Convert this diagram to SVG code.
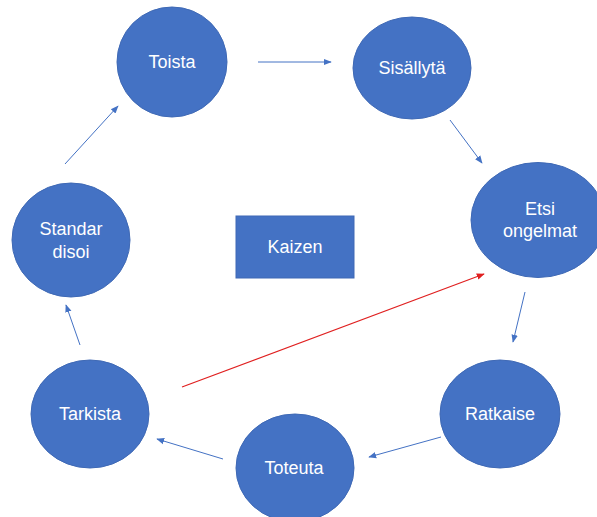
<svg xmlns="http://www.w3.org/2000/svg" width="597" height="517" viewBox="0 0 597 517">
<style>
.n{fill:#4472C4;stroke:#3F69B5;stroke-width:1}
.t{fill:#fff;font-family:"Liberation Sans",Arial,sans-serif;font-size:18px;text-anchor:middle}
.c{stroke:#4472C4;stroke-width:1;fill:none;marker-end:url(#ab)}
.r{stroke:#E02020;stroke-width:1.2;fill:none;marker-end:url(#ar)}
</style>
<defs>
<marker id="ab" viewBox="0 0 10 10" refX="9" refY="5" markerWidth="8" markerHeight="8" markerUnits="userSpaceOnUse" orient="auto"><path d="M0,1 L10,5 L0,9 z" fill="#4472C4"/></marker>
<marker id="ar" viewBox="0 0 10 10" refX="9" refY="5" markerWidth="8" markerHeight="8" markerUnits="userSpaceOnUse" orient="auto"><path d="M0,1 L10,5 L0,9 z" fill="#E02020"/></marker>
</defs>
<rect width="597" height="517" fill="#fff"/>
<g id="connectors">
<line class="c" x1="258" y1="62" x2="331" y2="62"/>
<line class="c" x1="450" y1="120" x2="482" y2="163"/>
<line class="c" x1="525" y1="292" x2="513" y2="342"/>
<line class="c" x1="441" y1="437" x2="369" y2="457"/>
<line class="c" x1="223" y1="459" x2="157" y2="439"/>
<line class="c" x1="80" y1="345" x2="66" y2="305"/>
<line class="c" x1="65" y1="164" x2="118" y2="106"/>
<line class="r" x1="182" y1="387" x2="484" y2="274"/>
</g>
<g id="toista"><ellipse class="n" cx="172" cy="62" rx="55" ry="55"/><text class="t" x="172" y="68">Toista</text></g>
<g id="sisallyta"><ellipse class="n" cx="412" cy="68" rx="59" ry="51"/><text class="t" x="412" y="74">Sisällytä</text></g>
<g id="etsi"><ellipse class="n" cx="538" cy="220" rx="67" ry="57.5"/><text class="t" x="540" y="215">Etsi</text><text class="t" x="540" y="237">ongelmat</text></g>
<g id="ratkaise"><ellipse class="n" cx="500" cy="414" rx="60" ry="54"/><text class="t" x="500" y="420">Ratkaise</text></g>
<g id="toteuta"><ellipse class="n" cx="295" cy="468" rx="59" ry="54"/><text class="t" x="294" y="474">Toteuta</text></g>
<g id="tarkista"><ellipse class="n" cx="90" cy="414" rx="59" ry="54"/><text class="t" x="90" y="420">Tarkista</text></g>
<g id="standardisoi"><ellipse class="n" cx="71" cy="240" rx="59" ry="57"/><text class="t" x="71" y="235">Standar</text><text class="t" x="71" y="258">disoi</text></g>
<g id="kaizen"><rect class="n" x="236" y="216" width="118" height="62"/><text class="t" x="295" y="253">Kaizen</text></g>
</svg>
